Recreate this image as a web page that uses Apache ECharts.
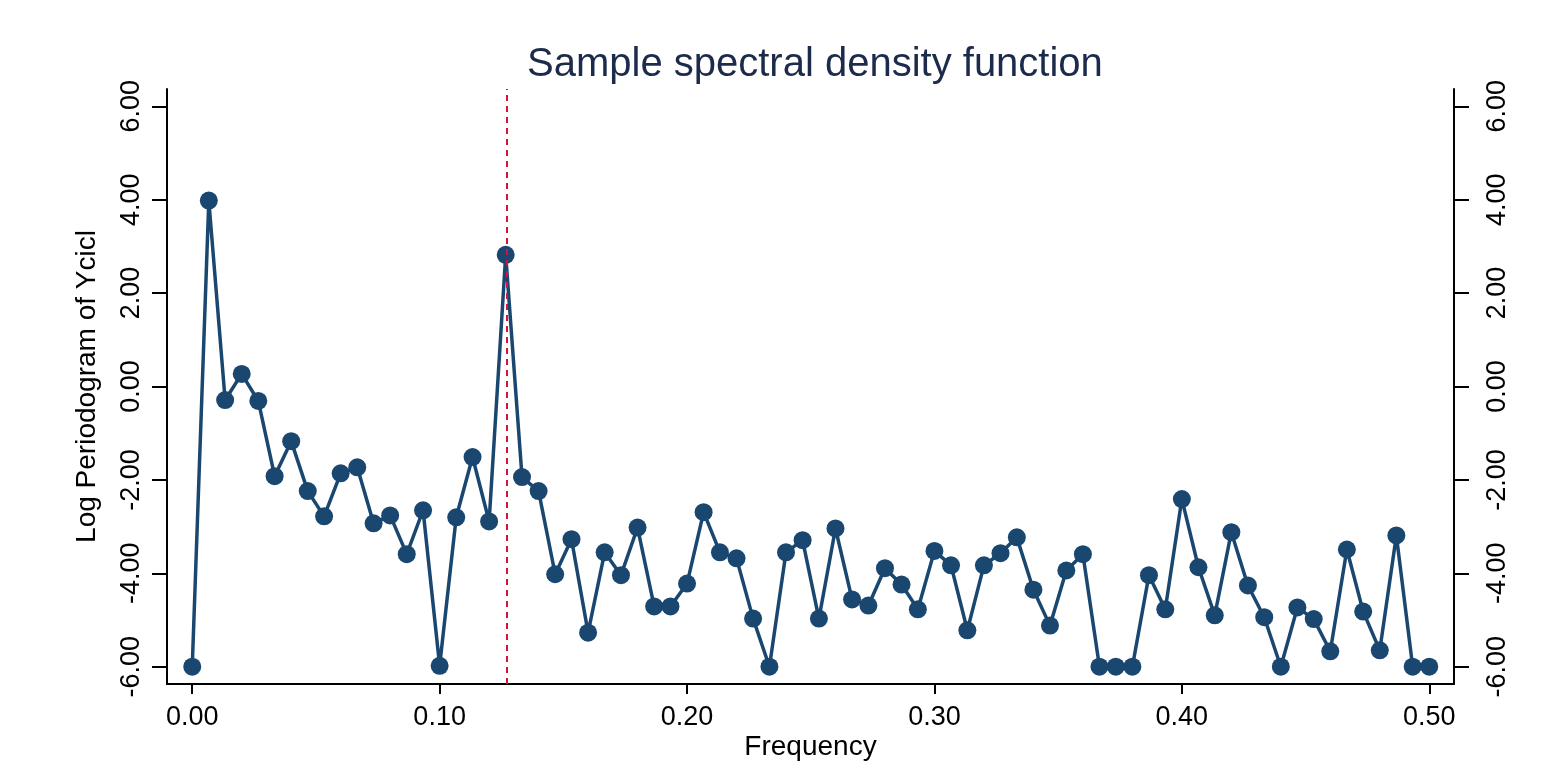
<!DOCTYPE html>
<html>
<head>
<meta charset="utf-8">
<title>Sample spectral density function</title>
<script src="https://cdn.jsdelivr.net/npm/echarts@6/dist/echarts.min.js"></script>
<style>
    html, body { margin: 0; padding: 0; background: #fff; }
    #chart { width: 1554px; height: 762px; }
</style>
</head>
<body>
<div id="chart"></div>
<script>
// frequencies (k/150)
var freq = [
    0.0000, 0.0067, 0.0133, 0.0200, 0.0267, 0.0333, 0.0400, 0.0467, 0.0533, 0.0600,
    0.0667, 0.0733, 0.0800, 0.0867, 0.0933, 0.1000, 0.1067, 0.1133, 0.1200, 0.1267,
    0.1333, 0.1400, 0.1467, 0.1533, 0.1600, 0.1667, 0.1733, 0.1800, 0.1867, 0.1933,
    0.2000, 0.2067, 0.2133, 0.2200, 0.2267, 0.2333, 0.2400, 0.2467, 0.2533, 0.2600,
    0.2667, 0.2733, 0.2800, 0.2867, 0.2933, 0.3000, 0.3067, 0.3133, 0.3200, 0.3267,
    0.3333, 0.3400, 0.3467, 0.3533, 0.3600, 0.3667, 0.3733, 0.3800, 0.3867, 0.3933,
    0.4000, 0.4067, 0.4133, 0.4200, 0.4267, 0.4333, 0.4400, 0.4467, 0.4533, 0.4600,
    0.4667, 0.4733, 0.4800, 0.4867, 0.4933, 0.5000
];

// log periodogram
var logPeriodogram = [
    -6.00, 3.98, -0.29, 0.27, -0.31, -1.92, -1.17, -2.24, -2.78, -1.86,
    -1.73, -2.93, -2.76, -3.59, -2.65, -5.98, -2.80, -1.51, -2.89, 2.82,
    -1.94, -2.24, -4.02, -3.27, -5.27, -3.55, -4.04, -3.02, -4.71, -4.71,
    -4.22, -2.69, -3.55, -3.68, -4.97, -6.00, -3.55, -3.29, -4.97, -3.04,
    -4.56, -4.69, -3.89, -4.24, -4.77, -3.52, -3.83, -5.22, -3.83, -3.57,
    -3.23, -4.35, -5.12, -3.94, -3.59, -6.00, -6.00, -6.00, -4.04, -4.77,
    -2.41, -3.87, -4.90, -3.12, -4.26, -4.94, -6.00, -4.73, -4.98, -5.67,
    -3.49, -4.82, -5.65, -3.19, -6.00, -6.00
];

var xTicks = [0, 0.1, 0.2, 0.3, 0.4, 0.5];
var yTicks = [-6, -4, -2, 0, 2, 4, 6];
var peakFreq = 0.1273;

var fontName = 'Liberation Sans, Arial, sans-serif';

var seriesData = [];
for (var i = 0; i < freq.length; i++) {
    seriesData.push([freq[i], logPeriodogram[i]]);
}

function yAxisOpt(pos) {
    return {
        type: 'value',
        position: pos,
        min: -6.37,
        max: 6.37,
        name: pos == 'left' ? 'Log Periodogram of Ycicl' : '',
        nameLocation: 'middle',
        nameRotate: 90,
        nameGap: 66,
        nameTextStyle: { color: '#000', fontSize: 28, fontFamily: fontName },
        axisLine: { show: true, onZero: false, lineStyle: { color: '#000', width: 2 } },
        axisTick: { show: true, length: 15, customValues: yTicks, lineStyle: { color: '#000', width: 2 } },
        axisLabel: {
            show: true,
            customValues: yTicks,
            rotate: 90,
            margin: pos == 'left' ? 22 : 30,
            color: '#000',
            fontSize: 27,
            fontFamily: fontName,
            formatter: function (v) { return v.toFixed(2); }
        },
        splitLine: { show: false }
    };
}

var option = {
    backgroundColor: '#fff',
    animation: false,
    title: {
        text: 'Sample spectral density function',
        left: 522,
        top: 40,
        textStyle: { color: '#1c2b4b', fontSize: 40, fontWeight: 'normal', fontFamily: fontName }
    },
    grid: {
        left: 167,
        right: 100,
        top: 89,
        bottom: 78,
        containLabel: false,
        outerBoundsMode: 'none'
    },
    xAxis: {
        type: 'value',
        min: -0.0102,
        max: 0.51,
        name: 'Frequency',
        nameLocation: 'middle',
        nameGap: 49,
        nameMoveOverlap: false,
        nameTextStyle: { color: '#000', fontSize: 28, fontFamily: fontName },
        axisLine: { show: true, onZero: false, lineStyle: { color: '#000', width: 2 } },
        axisTick: { show: true, length: 10, customValues: xTicks, lineStyle: { color: '#000', width: 2 } },
        axisLabel: {
            customValues: xTicks,
            margin: 20,
            color: '#000',
            fontSize: 27,
            fontFamily: fontName,
            formatter: function (v) { return v.toFixed(2); }
        },
        splitLine: { show: false }
    },
    yAxis: [yAxisOpt('left'), yAxisOpt('right')],
    series: [{
        type: 'line',
        data: seriesData,
        yAxisIndex: 0,
        symbol: 'circle',
        symbolSize: 18,
        showAllSymbol: true,
        lineStyle: { color: '#1a476f', width: 3.5 },
        itemStyle: { color: '#1a476f' },
        markLine: {
            silent: true,
            precision: 4,
            symbol: ['none', 'none'],
            label: { show: false },
            lineStyle: { color: '#d5123c', width: 2, type: [6, 5] },
            data: [{ xAxis: peakFreq }]
        }
    }]
};

var chart = echarts.init(document.getElementById('chart'));
chart.setOption(option);
</script>
</body>
</html>
